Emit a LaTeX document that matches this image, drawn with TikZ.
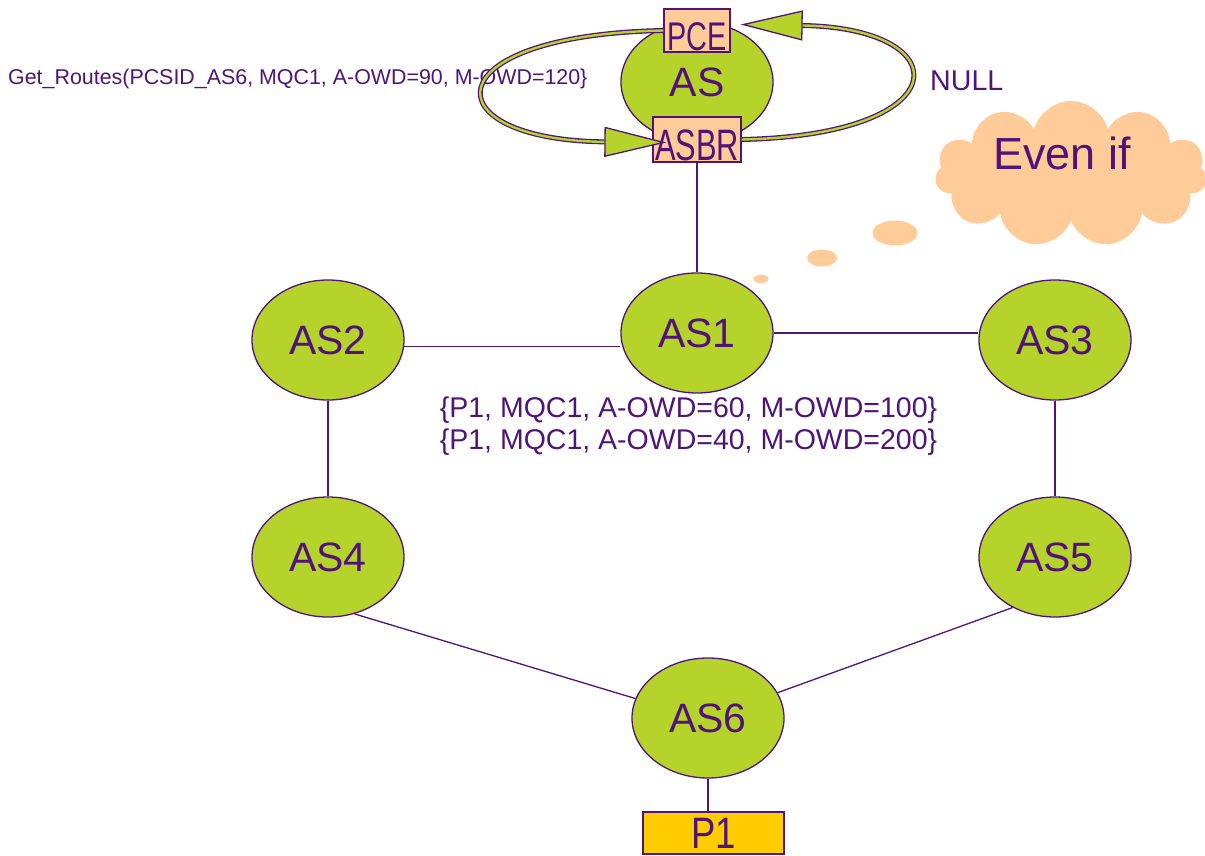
\documentclass[tikz,border=0pt]{standalone}
\usepackage{fontspec}
\setmainfont{Liberation Sans}
\usepackage{graphicx}
\usetikzlibrary{shapes.geometric,shapes.symbols,arrows.meta,calc}

\definecolor{ink}{RGB}{80,20,120}
\definecolor{limeg}{RGB}{181,211,43}
\definecolor{peach}{RGB}{255,204,153}
\definecolor{gold}{RGB}{255,204,0}

\tikzset{
  asnode/.style={ellipse, draw=ink, line width=1.3pt, fill=limeg,
    minimum width=152pt, minimum height=120pt, inner sep=0pt, text=ink,
    font=\fontsize{41}{45}\selectfont},
  tagbox/.style={rectangle, draw=ink, line width=1.3pt, fill=peach,
    inner sep=0pt, text=ink},
  link/.style={draw=ink, line width=1.3pt},
  loopouter/.style={draw=ink, line width=5pt,
    -{Triangle[length=62pt,width=30pt,line width=1.3pt,fill=limeg]}},
  loopinner/.style={draw=limeg, line width=2.4pt, shorten >=62pt},
  puff/.style={fill=peach, draw=none, inner sep=0pt},
  lbl/.style={text=ink, inner sep=0pt},
}

\begin{document}
\begin{tikzpicture}[x=1pt, y=-1pt]
\useasboundingbox (0,0) rectangle (1205,855);

% autonomous systems
\node[asnode] (as)  at (697,82)  {AS};
\node[asnode] (as1) at (697,333) {AS1};
\node[asnode] (as2) at (328,340) {AS2};
\node[asnode] (as3) at (1055,340) {AS3};
\node[asnode] (as4) at (328,557) {AS4};
\node[asnode] (as5) at (1055,557) {AS5};
\node[asnode] (as6) at (708,718) {AS6};

% PCE and border router boxes
\node[tagbox, minimum width=66pt, minimum height=43pt, text height=39pt, text depth=0pt,
  font=\fontsize{40}{44}\selectfont] (pce) at (697,30.5) {\scalebox{0.72}[1]{PCE}};
\node[tagbox, minimum width=88pt, minimum height=45pt, text height=41pt, text depth=0pt,
  font=\fontsize{44}{48}\selectfont] (asbr) at (697,139.5) {\scalebox{0.7}[1]{ASBR}};

% destination prefix
\node[rectangle, draw=ink, line width=1.3pt, fill=gold, inner sep=0pt, text=ink,
  minimum width=141pt, minimum height=42pt, font=\fontsize{44}{48}\selectfont]
  (p1) at (713.5,833) {\scalebox{0.83}[1]{P1}};

% links
\draw[link] (asbr.south) -- (as1.north);
\draw[link] (as2.-5) -- (as2.-5 -| as1.west);
\draw[link] (as1.east) -- (as1.east -| as3.west);
\draw[link] (as2.south) -- (as4.north);
\draw[link] (as3.south) -- (as5.north);
\draw[link] (as4.-65) -- (as6.165);
\draw[link] (as5.-130) -- (as6.20);
\draw[link] (as6.south) -- (as6.south |- p1.north);

% labels
\node[lbl, anchor=base west, font=\fontsize{21.4}{24}\selectfont] (req) at (8,84)
  {Get\_Routes(PCSID\_AS6, MQC1, A-OWD=90, M-OWD=120\}};
\node[lbl, anchor=base west, font=\fontsize{28.6}{32}\selectfont] (null) at (930,90) {NULL};
\node[lbl, anchor=base, font=\fontsize{28.5}{32}\selectfont] (r1) at (688.5,417)
  {\{P1, MQC1, A-OWD=60, M-OWD=100\}};
\node[lbl, anchor=base, font=\fontsize{28.5}{32}\selectfont] (r2) at (688.5,449)
  {\{P1, MQC1, A-OWD=40, M-OWD=200\}};

% request / reply loops
\draw[loopouter] (pce.west) .. controls (430,35) and (430,140) .. ($(asbr.west)+(14,3)$);
\draw[loopinner] (pce.west) .. controls (430,35) and (430,140) .. ($(asbr.west)+(14,3)$);
\draw[loopouter] (asbr.east) .. controls (960,135) and (960,28) .. ($(pce.east)+(10,-6)$);
\draw[loopinner] (asbr.east) .. controls (960,135) and (960,28) .. ($(pce.east)+(10,-6)$);

% thought bubble
\node[cloud, cloud puffs=11, aspect=1.9, puff, minimum width=272pt, minimum height=146pt]
  (cloudy) at (1071,174) {};
\node[lbl, anchor=base west, font=\fontsize{45}{50}\selectfont] (thought) at (993,169) {Even if};
\node[ellipse, puff, minimum width=45pt, minimum height=25pt] (dot1) at (895,233) {};
\node[ellipse, puff, minimum width=30pt, minimum height=17pt] (dot2) at (822,258) {};
\node[ellipse, puff, minimum width=15pt, minimum height=8.6pt] (dot3) at (761,279) {};
\end{tikzpicture}
\end{document}
